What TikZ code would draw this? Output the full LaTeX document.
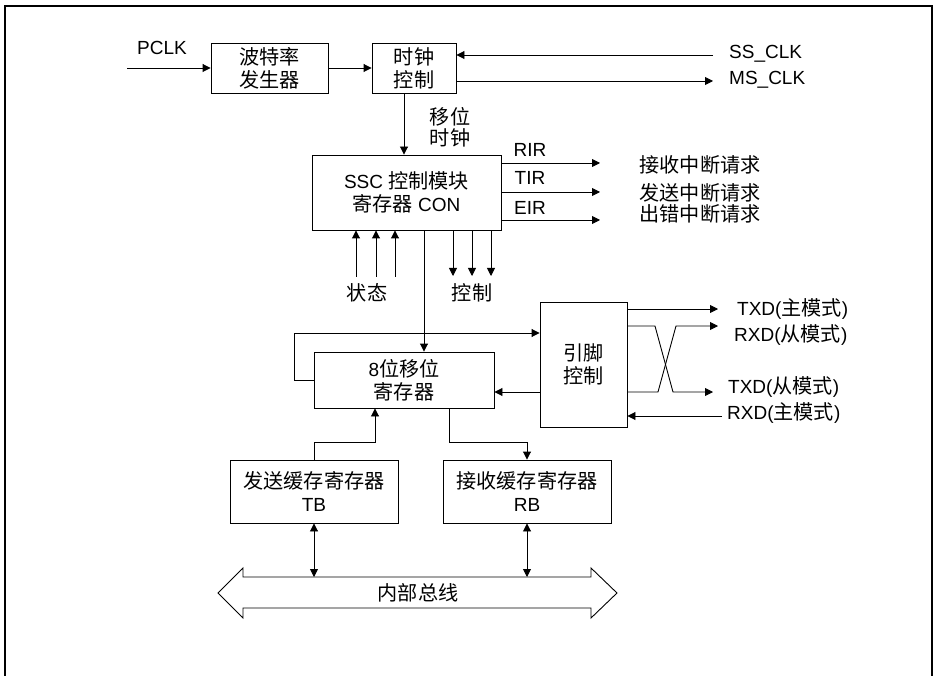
\documentclass[tikz,border=0pt]{standalone}
\usepackage{fontspec}
\setmainfont{Liberation Sans}
\newfontfamily\cjk[Scale=1.06]{Noto Sans CJK SC}
\usetikzlibrary{arrows.meta, calc}

\begin{document}
\begin{tikzpicture}[
      x=1pt, y=-1pt,
      blk/.style={draw, line width=0.9pt, inner sep=0pt, align=center, font=\fontsize{19}{23}\selectfont},
      lbl/.style={inner sep=0pt, align=center, font=\fontsize{19}{22}\selectfont},
      wire/.style={line width=0.9pt},
      link/.style={wire, -{Triangle[length=8pt,width=8pt]}},
      both/.style={wire, {Triangle[length=8pt,width=8pt]}-{Triangle[length=8pt,width=8pt]}}
  ]
    \useasboundingbox (0,0) rectangle (934,676);
    \draw[line width=2.5pt] (5,690) -- (5,6) -- (932,6) -- (932,690);

    % blocks
    \node[blk, minimum width=117pt, minimum height=50pt](baud) at (269.5,68){\cjk 波特率\\\cjk 发生器};
    \node[blk, minimum width=84pt, minimum height=50pt](clk) at (414,68){\cjk 时钟\\\cjk 控制};
    \node[blk, minimum width=189pt, minimum height=75pt](ssc) at (406.5,192.5){SSC {\cjk 控制模块}\\{\cjk 寄存器} CON};
    \node[blk, minimum width=180pt, minimum height=56pt](shift) at (404,380){8{\cjk 位移位}\\\cjk 寄存器};
    \node[blk, minimum width=87pt, minimum height=125pt](pin) at (583.5,364.5){\cjk 引脚\\\cjk 控制};
    \node[blk, minimum width=168pt, minimum height=63pt](tb) at (314,491.5){{\cjk 发送缓存寄存器}\\TB};
    \node[blk, minimum width=168pt, minimum height=63pt](rb) at (527,491.5){{\cjk 接收缓存寄存器}\\RB};

    % labels
    \node[lbl](pclkl) at (162,48){PCLK};
    \node[lbl, anchor=west](ssl) at (729,54){SS\_CLK};
    \node[lbl, anchor=west](msl) at (729,80){MS\_CLK};
    \node[lbl, font=\fontsize{19}{21}\selectfont](shl) at (450,127.5){\cjk 移位\\\cjk 时钟};
    \node[lbl](rirl) at (530,150){RIR};
    \node[lbl](tirl) at (530,178){TIR};
    \node[lbl](eirl) at (530,208){EIR};
    \node[lbl](rirt) at (700,165){\cjk 接收中断请求};
    \node[lbl](tirt) at (700,193){\cjk 发送中断请求};
    \node[lbl](eirt) at (700,214){\cjk 出错中断请求};
    \node[lbl](stl) at (367,293){\cjk 状态};
    \node[lbl](ctl) at (472,293){\cjk 控制};
    \node[lbl, anchor=west](txm) at (737,309){TXD({\cjk 主模式})};
    \node[lbl, anchor=west](rxs) at (734,335){RXD({\cjk 从模式})};
    \node[lbl, anchor=west](txs) at (728,387){TXD({\cjk 从模式})};
    \node[lbl, anchor=west](rxm) at (727,413){RXD({\cjk 主模式})};

    % free ends
    \coordinate (pclk) at (127,68);
    \coordinate (ss) at (713,55);
    \coordinate (ms) at (713,81);
    \coordinate (sh) at (404,0);
    \coordinate (dn) at (424,0);
    \coordinate (rir) at (600,163);
    \coordinate (tir) at (600,192);
    \coordinate (eir) at (600,220);
    \coordinate (lp) at (294,333);
    \coordinate (rx) at (0,392);
    \coordinate (t1) at (718,309);
    \coordinate (r1) at (718,326);
    \coordinate (t2) at (713,392);
    \coordinate (r2) at (722,416);
    \coordinate (tbk) at (375,442);
    \coordinate (rbk) at (449,442);
    \coordinate (bt) at (0,577);

    % clock path
    \draw[link](pclk) -- (baud.west);
    \draw[link](baud.east) -- (clk.west);
    \draw[link](ss) -- (ss -| clk.east);
    \draw[link](ms -| clk.east) -- (ms);
    \draw[link](clk.south -| sh) -- (ssc.north -| sh);

    % interrupts
    \foreach \q in {rir,tir,eir}
      \draw[link](ssc.east |- \q) -- (\q);

    % status and control
    \foreach \x in {356,376,395}
      \draw[link](\x,277) -- (ssc.south -| \x,0);
    \foreach \x in {453,472,491}
      \draw[link](ssc.south -| \x,0) -- (\x,276);

    % shift register
    \draw[link](ssc.south -| dn) -- (shift.north -| dn);
    \draw[link](shift.west) -| (lp) -- (lp -| pin.west);
    \draw[link](pin.west |- rx) -- (shift.east |- rx);

    % pins
    \draw[link](pin.east |- t1) -- (t1);
    \draw[link](pin.east |- r1) -- (655,326) -- (673,392) -- (t2);
    \draw[link](pin.east |- t2) -- (658,392) -- (676,326) -- (r1);
    \draw[link](r2) -- (pin.east |- r2);

    % buffers
    \draw[link](tb.north) |- (tbk) -- (tbk |- shift.south);
    \draw[link](rbk |- shift.south) -- (rbk) -| (rb.north);

    % bus
    \draw[wire] (218,593) -- (243,568) -- (243,577) -- (591,577) -- (591,568) -- (617,593)
      -- (591,618) -- (591,608) -- (243,608) -- (243,618) -- cycle;
    \node[lbl](bus) at (418,593){\cjk 内部总线};
    \draw[both](tb.south) -- (tb.south |- bt);
    \draw[both](rb.south) -- (rb.south |- bt);
  \end{tikzpicture}
\end{document}
